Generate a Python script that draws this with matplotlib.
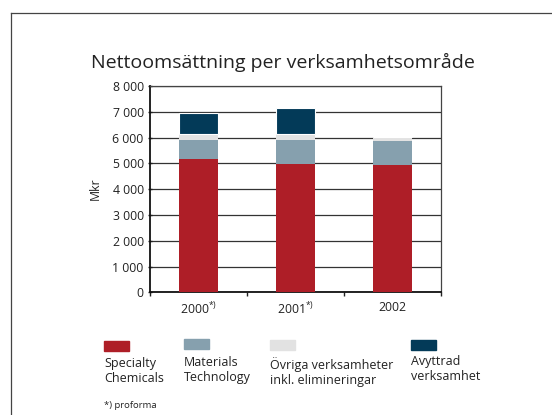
import matplotlib
matplotlib.use("Agg")
import matplotlib.pyplot as plt
from matplotlib.patches import Rectangle
from matplotlib.lines import Line2D
import numpy as np

plt.rcParams['font.family'] = ['Open Sans', 'DejaVu Sans']
plt.rcParams['mathtext.fontset'] = 'custom'
plt.rcParams['mathtext.rm'] = 'Open Sans'
plt.rcParams['mathtext.it'] = 'Open Sans'

# ---- data ----
years = ["2000$^{*)}$", "2001$^{*)}$", "2002"]
specialty = [5150, 4990, 4950]
materials = [740, 900, 900]
ovriga = [240, 240, 190]
avyttrad = [840, 1000, 0]
series_labels = ["Specialty\nChemicals", "Materials\nTechnology",
                 "Övriga verksamheter\ninkl. elimineringar", "Avyttrad\nverksamhet"]
colors = ["#AE1E27", "#86A0AE", "#E2E2E2", "#033A58"]
yticks = [0, 1000, 2000, 3000, 4000, 5000, 6000, 7000, 8000]
ytick_labels = ["0", "1 000", "2 000", "3 000", "4 000", "5 000", "6 000", "7 000", "8 000"]
title = "Nettoomsättning per verksamhetsområde"
ylabel = "Mkr"
footnote = "*) proforma"

W, H = 552, 415
fig = plt.figure(figsize=(W / 100, H / 100), dpi=100)
ax = fig.add_axes([150 / W, 1 - 292.3 / H, (441 - 150) / W, (292.3 - 86) / H])

x = np.arange(len(years))
bottom = np.zeros(len(years))
for i, (vals, c) in enumerate(zip([specialty, materials, ovriga, avyttrad], colors)):
    ax.bar(x, vals, width=0.41, bottom=bottom, color=c,
           edgecolor="white", linewidth=0.8 if i == 3 else 0, zorder=3)
    bottom += np.array(vals)

ax.set_xlim(-0.5, 2.5)
ax.set_ylim(0, 8000)
ax.set_yticks(yticks)
ax.set_yticklabels(ytick_labels, fontsize=8.8, color="#222222")
ax.set_xticks(x)
ax.set_xticklabels(years, fontsize=8.8, color="#222222")
ax.set_xticks([-0.5, 0.5, 1.5, 2.5], minor=True)
ax.tick_params(axis="x", which="major", length=0, pad=6)
ax.tick_params(axis="x", which="minor", length=3, width=1, color="#222222", direction="out")
ax.tick_params(axis="y", length=3, width=1, color="#222222", direction="inout", pad=3)
ax.yaxis.grid(True, color="#333333", linewidth=0.9, zorder=0)
ax.set_axisbelow(True)
for s in ["left", "bottom"]:
    ax.spines[s].set_color("#111111")
    ax.spines[s].set_linewidth(1.3)
for s in ["top", "right"]:
    ax.spines[s].set_color("#444444")
    ax.spines[s].set_linewidth(0.9)
ax.set_ylabel(ylabel, fontsize=8.8, color="#222222", labelpad=8)

fig.text(283 / W, 1 - 62 / H, title, fontsize=14, ha="center", va="center", color="#222222")

# legend
leg_x = [104, 184, 270, 411]
leg_box_y = [341, 339, 340, 340]
leg_text_y = [357, 356, 357, 355]
for lx, ly, ty, c, lab in zip(leg_x, leg_box_y, leg_text_y, colors, series_labels):
    fig.patches.append(Rectangle((lx / W, 1 - (ly + 10) / H), 25 / W, 10 / H,
                                 transform=fig.transFigure, color=c, zorder=2))
    fig.text(lx / W, 1 - ty / H, lab, fontsize=9, ha="left", va="top",
             color="#222222", linespacing=1.2)
fig.text(104 / W, 1 - 405 / H, footnote, fontsize=6.8, ha="left", va="center", color="#222222")

# outer frame lines
fig.add_artist(Line2D([10.5 / W, 1], [1 - 13 / H, 1 - 13 / H], transform=fig.transFigure,
                      color="#444444", linewidth=0.9))
fig.add_artist(Line2D([10.5 / W, 10.5 / W], [0, 1 - 13 / H], transform=fig.transFigure,
                      color="#444444", linewidth=0.9))

fig.savefig("out.png", dpi=100)
